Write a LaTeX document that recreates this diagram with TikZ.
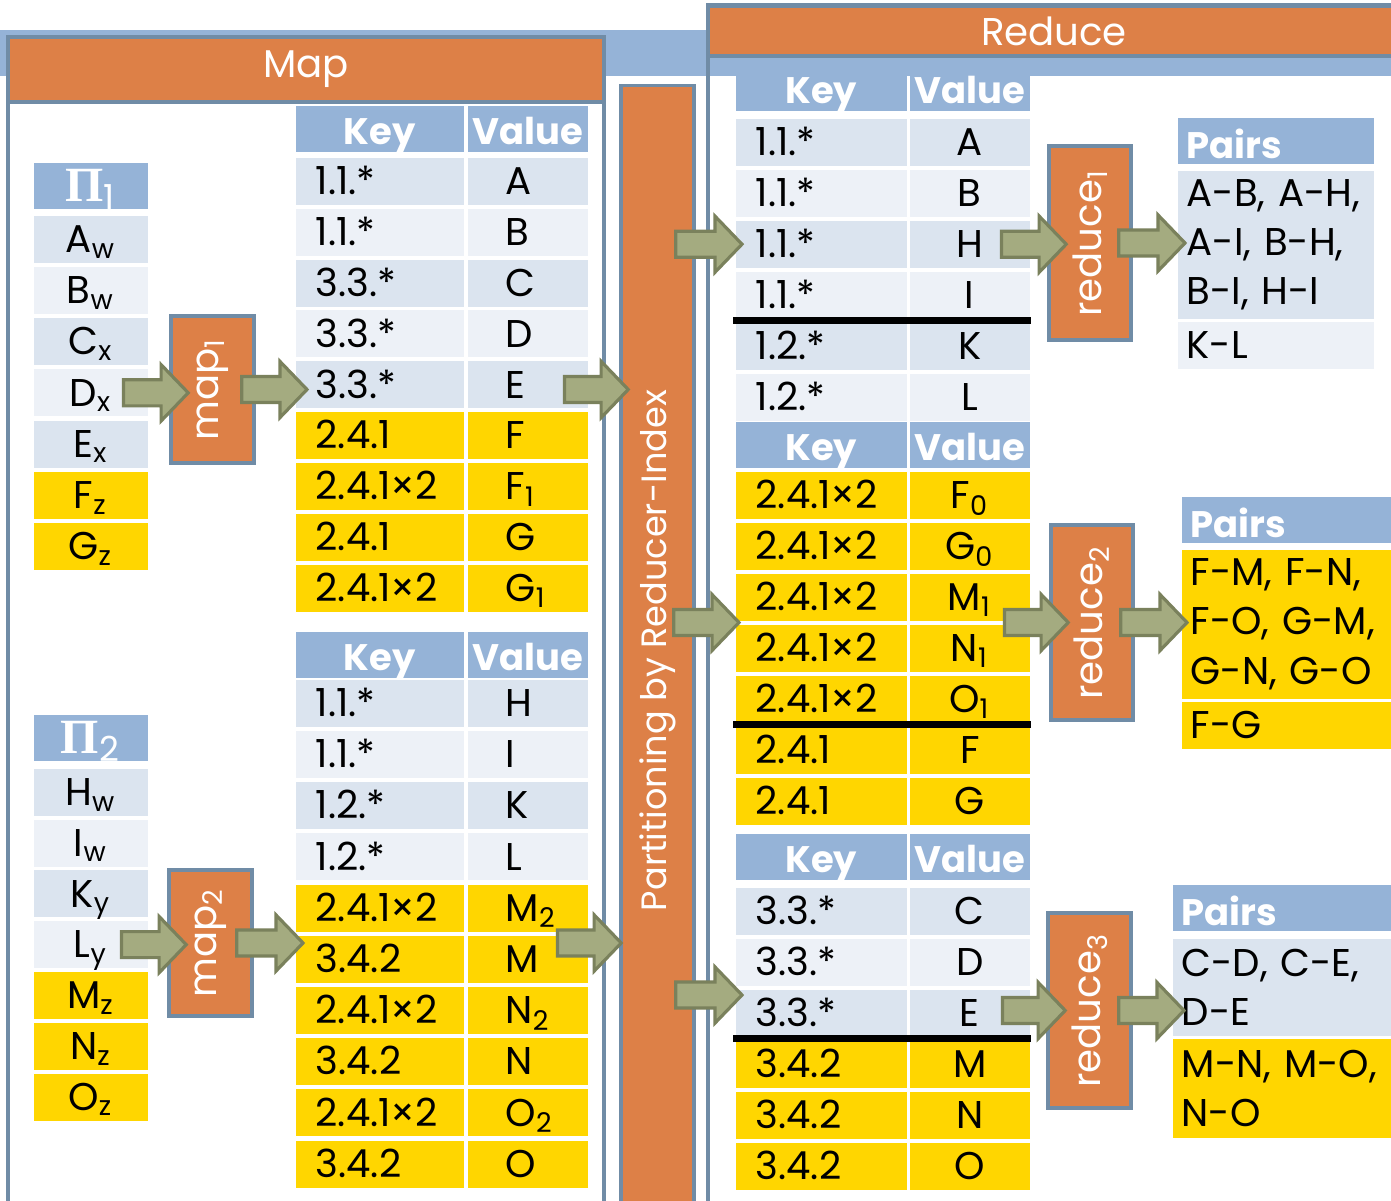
\documentclass[tikz,border=0pt]{standalone}
\usepackage{fontspec}
\setmainfont{Poppins}
\newfontfamily\pifont{Liberation Serif}
\usetikzlibrary{calc,positioning}
\definecolor{orng}{RGB}{221,128,71}
\definecolor{frame}{RGB}{112,140,166}
\definecolor{hdrblue}{RGB}{149,179,215}
\definecolor{rowa}{RGB}{219,228,239}
\definecolor{rowb}{RGB}{237,241,247}
\definecolor{yel}{RGB}{255,214,0}
\definecolor{arrfill}{RGB}{164,171,128}
\definecolor{arrline}{RGB}{122,129,92}
\tikzset{
  panel/.style={draw=frame,line width=1pt},
  stage/.style={rectangle,draw=frame,line width=1pt,fill=orng,text=white,inner sep=0pt,font=\fontsize{11}{13}\selectfont},
  cell/.style={rectangle,inner sep=0pt,anchor=north west,text height=9pt,text depth=1.5pt,font=\fontsize{11}{13}\selectfont},
  pihdr/.style={cell,minimum width=1.14cm,minimum height=0.46cm,fill=hdrblue,text=white,text height=10pt,text depth=1pt,font=\fontsize{14}{15}\selectfont},
  picell/.style={cell,minimum width=1.14cm,minimum height=0.47cm},
  khdr/.style={cell,minimum width=1.68cm,minimum height=0.46cm,fill=hdrblue,text=white,text height=10pt,text depth=1pt,font=\fontsize{10.5}{13}\selectfont\bfseries},
  vhdr/.style={khdr,minimum width=1.20cm},
  kcell/.style={cell,minimum width=1.68cm,minimum height=0.47cm,text width=1.28cm,align=left},
  vcell/.style={cell,minimum width=1.20cm,minimum height=0.47cm,text width=0.44cm,align=left},
  rkcell/.style={cell,minimum width=1.71cm,minimum height=0.47cm,text width=1.31cm,align=left},
  rvcell/.style={cell,minimum width=1.20cm,minimum height=0.47cm},
  pairbody/.style={rectangle,anchor=north west,inner xsep=0.09cm,inner ysep=0pt,align=left,font=\fontsize{11}{14}\selectfont},
  pairhdr/.style={pairbody,minimum height=0.46cm,fill=hdrblue,text=white,text height=10.5pt,text depth=0.5pt,font=\fontsize{10.5}{13}\selectfont\bfseries},
  sepline/.style={line width=2pt,black},
  fat/.style={draw=arrline,fill=arrfill,line width=0.9pt,line join=miter}
}
\newcommand{\fatarrow}[2]{\draw[fat] let \p1=#1, \p2=#2 in
  (\x1,\y1+3.7pt) -- (\x2-7.7pt,\y1+3.7pt) -- (\x2-7.7pt,\y1+8pt) -- (\x2,\y1)
  -- (\x2-7.7pt,\y1-8pt) -- (\x2-7.7pt,\y1-3.7pt) -- (\x1,\y1-3.7pt) -- cycle;}

\begin{document}
\begin{tikzpicture}[x=0.01cm,y=-0.01cm]
  \useasboundingbox (0,0) rectangle (1391,1200);
  \fill[white] (0,0) rectangle (1391,1200);
  % Blue band behind the panels
  \fill[hdrblue] (0,30) rectangle (1391,76);

  % Map and Reduce panels
  \draw[panel,fill=white] (8,37) rectangle (604,1215);
  \node[stage,minimum width=5.96cm,minimum height=0.65cm] (maphdr) at (306,69.5) {Map};
  \draw[panel] (708,5) rectangle (1400,1215);
  \node[stage,minimum width=6.92cm,minimum height=0.50cm] (redhdr) at (1054,31) {Reduce};

  % Partitioning bar
  \node[stage,minimum width=0.73cm,minimum height=11.29cm,font=\fontsize{10}{12}\selectfont] (part) at (657.5,650.5)
    {\rotatebox{90}{Partitioning by Reducer-Index}};

  % Input splits
  \node[pihdr] (pahdr) at (33,162) {{\pifont\bfseries Π}\textsubscript{1}};
  \foreach \t/\c [count=\i from 0] in {A\textsubscript{w}/rowa,B\textsubscript{w}/rowb,C\textsubscript{x}/rowa,D\textsubscript{x}/rowb,E\textsubscript{x}/rowa,F\textsubscript{z}/yel,G\textsubscript{z}/yel}
    \node[picell,fill=\c] (pa\i) at (33,{215+51.2*\i}) {\t};
  \node[pihdr] (pbhdr) at (33,714) {{\pifont\bfseries Π}\textsubscript{2}};
  \foreach \t/\c [count=\i from 0] in {H\textsubscript{w}/rowa,I\textsubscript{w}/rowb,K\textsubscript{y}/rowa,L\textsubscript{y}/rowb,M\textsubscript{z}/yel,N\textsubscript{z}/yel,O\textsubscript{z}/yel}
    \node[picell,fill=\c] (pb\i) at (33,{768+50.8*\i}) {\t};

  % Mappers
  \node[stage,minimum width=0.83cm,minimum height=1.47cm] (map1) at (212.5,389.5) {\rotatebox{90}{map\textsubscript{1}}};
  \node[stage,minimum width=0.83cm,minimum height=1.46cm] (map2) at (210.5,943) {\rotatebox{90}{map\textsubscript{2}}};

  % Map output tables
  \node[khdr] (mahk) at (295,105) {Key};
  \node[vhdr] (mahv) at (467,105) {Value};
  \foreach \k/\v/\c [count=\i from 0] in {1.1.*/A/rowa,1.1.*/B/rowb,3.3.*/C/rowa,3.3.*/D/rowb,3.3.*/E/rowa,2.4.1/F/yel,2.4.1×2/F\textsubscript{1}/yel,2.4.1/G/yel,2.4.1×2/G\textsubscript{1}/yel}{
    \node[kcell,fill=\c] (mak\i) at (295,{157+50.9*\i}) {\k};
    \node[vcell,fill=\c] (mav\i) at (467,{157+50.9*\i}) {\v};}
  \node[khdr] (mbhk) at (295,631) {Key};
  \node[vhdr] (mbhv) at (467,631) {Value};
  \foreach \k/\v/\c [count=\i from 0] in {1.1.*/H/rowa,1.1.*/I/rowb,1.2.*/K/rowa,1.2.*/L/rowb,2.4.1×2/M\textsubscript{2}/yel,3.4.2/M/yel,2.4.1×2/N\textsubscript{2}/yel,3.4.2/N/yel,2.4.1×2/O\textsubscript{2}/yel,3.4.2/O/yel}{
    \node[kcell,fill=\c] (mbk\i) at (295,{679+51.2*\i}) {\k};
    \node[vcell,fill=\c] (mbv\i) at (467,{679+51.2*\i}) {\v};}

  % Reducer input tables
  \node[khdr,minimum width=1.71cm] (rahk) at (735,64) {Key};
  \node[vhdr] (rahv) at (909,64) {Value};
  \foreach \k/\v/\c [count=\i from 0] in {1.1.*/A/rowa,1.1.*/B/rowb,1.1.*/H/rowa,1.1.*/I/rowb,1.2.*/K/rowa,1.2.*/L/rowb}{
    \node[rkcell,fill=\c] (rak\i) at (735,{118+51*\i}) {\k};
    \node[rvcell,fill=\c] (rav\i) at (909,{118+51*\i}) {\v};}
  \node[khdr,minimum width=1.71cm] (rbhk) at (735,421) {Key};
  \node[vhdr] (rbhv) at (909,421) {Value};
  \foreach \k/\v [count=\i from 0] in {2.4.1×2/F\textsubscript{0},2.4.1×2/G\textsubscript{0},2.4.1×2/M\textsubscript{1},2.4.1×2/N\textsubscript{1},2.4.1×2/O\textsubscript{1},2.4.1/F,2.4.1/G}{
    \node[rkcell,fill=yel] (rbk\i) at (735,{471+51*\i}) {\k};
    \node[rvcell,fill=yel] (rbv\i) at (909,{471+51*\i}) {\v};}
  \node[khdr,minimum width=1.71cm] (rchk) at (735,833) {Key};
  \node[vhdr] (rchv) at (909,833) {Value};
  \foreach \k/\v/\c [count=\i from 0] in {3.3.*/C/rowa,3.3.*/D/rowb,3.3.*/E/rowa,3.4.2/M/yel,3.4.2/N/yel,3.4.2/O/yel}{
    \node[rkcell,fill=\c] (rck\i) at (735,{887+51*\i}) {\k};
    \node[rvcell,fill=\c] (rcv\i) at (909,{887+51*\i}) {\v};}

  % Group separators
  \draw[sepline] ($(rak3.south west)!.5!(rak4.north west)+(-2,0)$) -- ($(rav3.south east)!.5!(rav4.north east)+(1,0)$);
  \draw[sepline] ($(rbk4.south west)!.5!(rbk5.north west)+(-2,0)$) -- ($(rbv4.south east)!.5!(rbv5.north east)+(1,0)$);
  \draw[sepline] ($(rck2.south west)!.5!(rck3.north west)+(-2,0)$) -- ($(rcv2.south east)!.5!(rcv3.north east)+(1,0)$);

  % Reducers
  \node[stage,minimum width=0.82cm,minimum height=1.94cm] (red1) at (1090,243) {\rotatebox{90}{reduce\textsubscript{1}}};
  \node[stage,minimum width=0.82cm,minimum height=1.95cm] (red2) at (1092,622.5) {\rotatebox{90}{reduce\textsubscript{2}}};
  \node[stage,minimum width=0.83cm,minimum height=1.95cm] (red3) at (1089.5,1010.5) {\rotatebox{90}{reduce\textsubscript{3}}};

  % Result pairs
  \node[pairhdr,text width=1.78cm] (pr1h) at (1177,117) {Pairs};
  \node[pairbody,text width=1.78cm,fill=rowa,minimum height=1.48cm] (pr1a) at (1177,170) {A-B, A-H,\\A-I, B-H,\\B-I, H-I};
  \node[pairbody,text width=1.78cm,fill=rowb,minimum height=0.47cm] (pr1b) at (1177,321) {K-L};
  \node[pairhdr,text width=2.01cm] (pr2h) at (1181,496) {Pairs};
  \node[pairbody,text width=2.01cm,fill=yel,minimum height=1.49cm] (pr2a) at (1181,549) {F-M, F-N,\\F-O, G-M,\\G-N, G-O};
  \node[pairbody,text width=2.01cm,fill=yel,minimum height=0.47cm] (pr2b) at (1181,701) {F-G};
  \node[pairhdr,text width=2.10cm] (pr3h) at (1172,884) {Pairs};
  \node[pairbody,text width=2.10cm,fill=rowa,minimum height=0.97cm] (pr3a) at (1172,938) {C-D, C-E,\\D-E};
  \node[pairbody,text width=2.10cm,fill=yel,minimum height=0.99cm] (pr3b) at (1172,1038) {M-N, M-O,\\N-O};

  % Block arrows
  \fatarrow{($(pa3.east)+(-25,0)$)}{($(map1.west)+(19,0)$)}
  \fatarrow{($(map1.east)+(-14,0)$)}{($(mak4.west)+(12,0)$)}
  \fatarrow{($(pb3.east)+(-27,0)$)}{($(map2.west)+(19,0)$)}
  \fatarrow{($(map2.east)+(-17,0)$)}{($(mbk5.west)+(8,0)$)}
  \fatarrow{($(mav4.east |- map1.east)+(-24,0)$)}{($(part.west)+(9,0)$)}
  \fatarrow{($(mbv5.east |- map2.east)+(-31,0)$)}{($(part.west)+(2,0)$)}
  \fatarrow{($(part.east |- rak2.west)+(-20,0)$)}{($(rak2.west)+(7,0)$)}
  \fatarrow{($(part.east |- red2.west)+(-22,0)$)}{($(rbk2.west)+(4,0)$)}
  \fatarrow{($(part.east |- rck2.north)+(-20,6)$)}{($(rck2.west)+(7,0)$)}
  \fatarrow{($(rav2.east)+(-29,0)$)}{($(red1.west)+(19,0)$)}
  \fatarrow{($(red1.east)+(-14,0)$)}{($(pr1a.west)+(8,0)$)}
  \fatarrow{($(rbv2.east |- red2.east)+(-26,0)$)}{($(red2.west)+(19,0)$)}
  \fatarrow{($(red2.east)+(-14,0)$)}{($(pr2a.west)+(6,0)$)}
  \fatarrow{($(rcv2.east |- red3.east)+(-28,0)$)}{($(red3.west)+(19,0)$)}
  \fatarrow{($(red3.east)+(-14,0)$)}{($(pr3a.west)+(12,0)$)}
\end{tikzpicture}
\end{document}
